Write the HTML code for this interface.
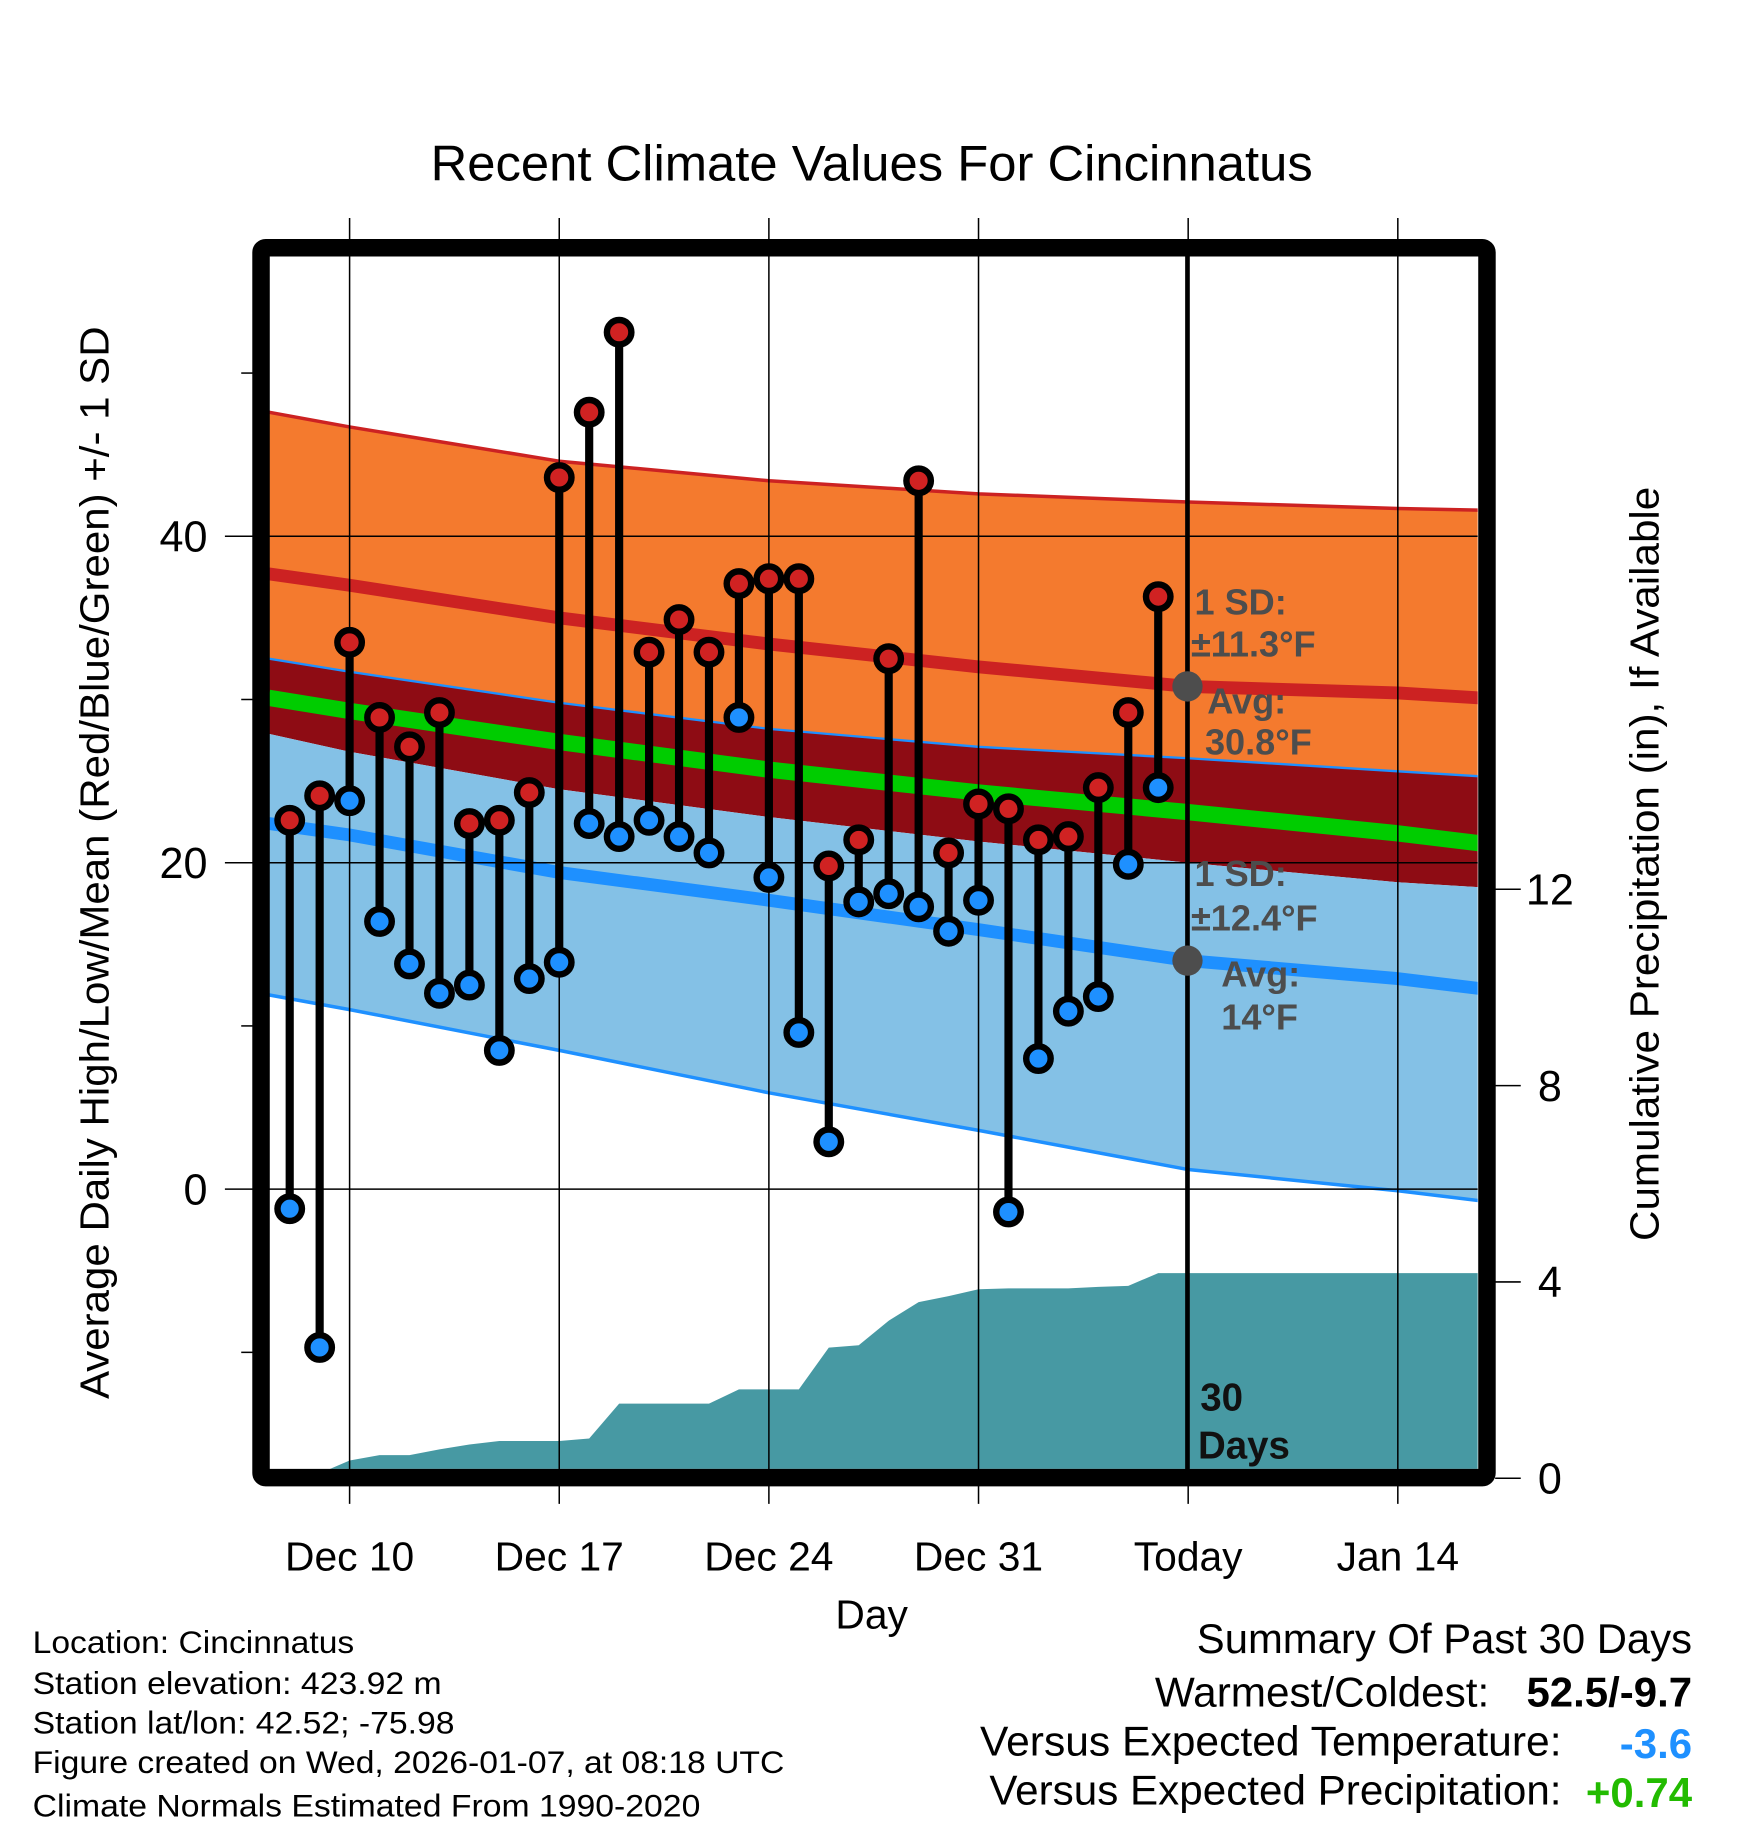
<!DOCTYPE html>
<html><head><meta charset="utf-8">
<style>
html,body{margin:0;padding:0;background:#fff;}
svg{display:block;font-family:"Liberation Sans",sans-serif;}
</style></head>
<body>
<svg id="chart" width="1748" height="1828" viewBox="0 0 1500 1568" preserveAspectRatio="none" xmlns="http://www.w3.org/2000/svg">
<defs><clipPath id="plotclip"><rect x="231" y="220" width="1037" height="1040"/></clipPath></defs>
<g id="plot" clip-path="url(#plotclip)"></g>
<g id="overlay"></g>
</svg>
<script>
// ---- data ----
const days = ["Dec 8","Dec 9","Dec 10","Dec 11","Dec 12","Dec 13","Dec 14","Dec 15","Dec 16","Dec 17","Dec 18","Dec 19","Dec 20","Dec 21","Dec 22","Dec 23","Dec 24","Dec 25","Dec 26","Dec 27","Dec 28","Dec 29","Dec 30","Dec 31","Jan 1","Jan 2","Jan 3","Jan 4","Jan 5","Jan 6"];
const highs = [22.6,24.1,33.5,28.9,27.1,29.2,22.4,22.6,24.3,43.6,47.6,52.5,32.9,34.9,32.9,37.1,37.4,37.4,19.8,21.4,32.5,43.4,20.6,23.6,23.3,21.4,21.6,24.6,29.2,36.3];
const lows = [-1.2,-9.7,23.8,16.4,13.8,12.0,12.5,8.5,12.9,13.9,22.4,21.6,22.6,21.6,20.6,28.9,19.1,9.6,2.9,17.6,18.1,17.3,15.8,17.7,-1.4,8.0,10.9,11.8,19.9,24.6];
// cumulative precip (in), Dec 8 .. Jan 7
const precip = [0,0.1,0.36,0.47,0.47,0.59,0.69,0.76,0.76,0.76,0.81,1.52,1.52,1.52,1.52,1.81,1.81,1.81,2.66,2.71,3.21,3.59,3.71,3.85,3.87,3.87,3.87,3.90,3.92,4.18,4.18];
// normals sampled at day offsets (0 = Dec 8)
const normDays = [-0.7,2,9,16,23,30,37,39.7];
const highUpper = [47.6,46.7,44.6,43.4,42.6,42.1,41.7,41.6];
const highMean = [37.7,37.0,35.0,33.4,32.0,30.8,30.4,30.1];
const highLower = [32.5,31.7,29.8,28.2,27.1,26.4,25.6,25.3];
const meanMean = [30.1,29.3,27.4,25.7,24.3,23.1,21.8,21.2];
const lowUpper = [27.9,26.8,24.5,22.8,21.3,20.0,18.8,18.5];
const lowMean = [22.4,21.7,19.4,17.7,15.9,14.0,12.9,12.3];
const lowLower = [11.9,11.0,8.5,5.9,3.6,1.2,-0.1,-0.7];
const xTickDays = [2,9,16,23,30,37];
const xTickLabels = ["Dec 10","Dec 17","Dec 24","Dec 31","Today","Jan 14"];
const yTicks = [0,20,40];
const yMinor = [-10,10,30,50];
const pTicks = [0,4,8,12];

// ---- axes ----
const X0 = 248.6, DX = 25.7;
const x = d => X0 + d*DX;
const y = v => 1020 - v*14;
const yp = v => 1268 - v*42.1;
const NS = "http://www.w3.org/2000/svg";
const plot = document.getElementById('plot');
const ov = document.getElementById('overlay');
function mk(tag, attrs, parent){ const e=document.createElementNS(NS,tag); for(const k in attrs) e.setAttribute(k,attrs[k]); parent.appendChild(e); return e; }
function pts(arr, fy){ return normDays.map((d,i)=>x(d).toFixed(1)+','+fy(arr[i]).toFixed(1)); }
function band(a,b,fill,name){
  const p = pts(a,y).concat(pts(b,y).reverse()).join(' ');
  const e = mk('polygon',{points:p,fill:fill},plot);
  
  
}
function line(a,color,w,name){
  const e = mk('polyline',{points:pts(a,y).join(' '),fill:'none',stroke:color,'stroke-width':w,'stroke-linejoin':'round'},plot);
  
  
}
band(highUpper,highLower,'#f47a2e','high-sd-band');
band(highLower,lowUpper,'#8e0c14','overlap-band');
band(lowUpper,lowLower,'#84c1e6','low-sd-band');
line(highUpper,'#cc2222',3,'high-upper-line');
line(highLower,'#1e90ff',2,'high-lower-line');
line(lowLower,'#1e90ff',3,'low-lower-line');
line(meanMean,'#00cc00',14,'mean-normal-line');
line(highMean,'#cc2222',11,'high-normal-line');
line(lowMean,'#1e90ff',11,'low-normal-line');

// precip area
{
  let p = precip.map((v,i)=>x(i).toFixed(1)+','+yp(v).toFixed(1));
  p.push('1270,'+yp(precip[precip.length-1]).toFixed(1), '1270,1270', x(0)+',1270');
  const e = mk('polygon',{points:p.join(' '),fill:'#4799a3'},plot);
  
  
}

// grid lines
xTickDays.forEach((d,i)=>{
  const g = mk('line',{x1:x(d),x2:x(d),y1:187,y2:1290,stroke:'#000','stroke-width':1.3},ov);
  
  
});
yTicks.forEach(v=>{
  const g = mk('line',{x1:193,x2:1268,y1:y(v),y2:y(v),stroke:'#000','stroke-width':1.3},ov);
  
  
  const t = mk('text',{x:178,y:y(v)+13,'text-anchor':'end','font-size':37},ov);
  t.textContent = v;
  
  
});
yMinor.forEach(v=>{
  const g = mk('line',{x1:207,x2:220,y1:y(v),y2:y(v),stroke:'#000','stroke-width':1.3},ov);
  
  
});
pTicks.forEach(v=>{
  const g = mk('line',{x1:1283,x2:1305,y1:yp(v),y2:yp(v),stroke:'#000','stroke-width':1.3},ov);
  
  
  const t = mk('text',{x:1330,y:yp(v)+13,'text-anchor':'middle','font-size':37},ov);
  t.textContent = v;
  
  
});
xTickLabels.forEach((l,i)=>{
  const t = mk('text',{x:x(xTickDays[i]),y:1347,'text-anchor':'middle','font-size':35},ov);
  t.textContent = l;
  
  
});
// today line
{
  const e = mk('line',{x1:1019,x2:1019,y1:220,y2:1262,stroke:'#000','stroke-width':4},ov);
  
  
}
// stems & markers
days.forEach((d,i)=>{
  const s = mk('line',{x1:x(i),x2:x(i),y1:y(highs[i]),y2:y(lows[i]),stroke:'#000','stroke-width':7},ov);
  
  
});
days.forEach((d,i)=>{
  const h = mk('circle',{cx:x(i),cy:y(highs[i]),r:10.5,fill:'#d02222',stroke:'#000','stroke-width':5.5},ov);
  
  
  const l = mk('circle',{cx:x(i),cy:y(lows[i]),r:10.5,fill:'#1e90ff',stroke:'#000','stroke-width':5.5},ov);
  
  
});
// avg dots
{
  const a = mk('circle',{cx:1019,cy:y(highMean[5]),r:13,fill:'#4d4d4d'},ov);
  
  
  const b = mk('circle',{cx:1019,cy:y(lowMean[5]),r:13,fill:'#4d4d4d'},ov);
  
  
}
</script>
<script>
(function(){
const NS="http://www.w3.org/2000/svg";
const svg=document.getElementById('chart');
const f=document.createElementNS(NS,'rect');
f.setAttribute('x',224);f.setAttribute('y',212.5);f.setAttribute('width',1052);f.setAttribute('height',1055);
f.setAttribute('fill','none');f.setAttribute('stroke','#000');f.setAttribute('stroke-width',15);f.setAttribute('rx',4);


svg.appendChild(f);
})();
</script>
<svg style="position:absolute;left:0;top:0" width="1748" height="1828" viewBox="0 0 1500 1568" preserveAspectRatio="none" xmlns="http://www.w3.org/2000/svg" font-family="Liberation Sans, sans-serif">
<text x="748" y="155" text-anchor="middle" font-size="43" textLength="757" lengthAdjust="spacingAndGlyphs">Recent Climate Values For Cincinnatus</text>
<text transform="translate(93,740) rotate(-90)" text-anchor="middle" font-size="35" textLength="920" lengthAdjust="spacingAndGlyphs">Average Daily High/Low/Mean (Red/Blue/Green) +/- 1 SD</text>
<text transform="translate(1423,741) rotate(-90)" text-anchor="middle" font-size="35" textLength="647" lengthAdjust="spacingAndGlyphs">Cumulative Precipitation (in), If Available</text>
<text x="748" y="1397" text-anchor="middle" font-size="35">Day</text>
<g font-weight="bold" font-size="31" fill="#4d4d4d">
<text x="1025" y="527">1 SD:</text>
<text x="1022" y="563">±11.3°F</text>
<text x="1036" y="612">Avg:</text>
<text x="1034" y="647">30.8°F</text>
<text x="1025" y="760">1 SD:</text>
<text x="1022" y="798">±12.4°F</text>
<text x="1048" y="846">Avg:</text>
<text x="1048" y="883">14°F</text>
</g>
<g font-weight="bold" font-size="33" fill="#111">
<text x="1030" y="1210">30</text>
<text x="1028" y="1251">Days</text>
</g>
<g font-size="27" fill="#000">
<text x="28" y="1418" textLength="276" lengthAdjust="spacingAndGlyphs">Location: Cincinnatus</text>
<text x="28" y="1453" textLength="351" lengthAdjust="spacingAndGlyphs">Station elevation: 423.92 m</text>
<text x="28" y="1487" textLength="362" lengthAdjust="spacingAndGlyphs">Station lat/lon: 42.52; -75.98</text>
<text x="28" y="1521" textLength="645" lengthAdjust="spacingAndGlyphs">Figure created on Wed, 2026-01-07, at 08:18 UTC</text>
<text x="28" y="1558" textLength="573" lengthAdjust="spacingAndGlyphs">Climate Normals Estimated From 1990-2020</text>
</g>
<g font-size="36" fill="#000">
<text x="1452" y="1418" text-anchor="end" textLength="425" lengthAdjust="spacingAndGlyphs">Summary Of Past 30 Days</text>
<text x="1278" y="1464" text-anchor="end" textLength="287" lengthAdjust="spacingAndGlyphs">Warmest/Coldest:</text>
<text x="1452" y="1464" text-anchor="end" font-weight="bold">52.5/-9.7</text>
<text x="1340" y="1506" text-anchor="end" textLength="499" lengthAdjust="spacingAndGlyphs">Versus Expected Temperature:</text>
<text x="1452" y="1508" text-anchor="end" font-weight="bold" fill="#1e90ff">-3.6</text>
<text x="1340" y="1548" text-anchor="end" textLength="491" lengthAdjust="spacingAndGlyphs">Versus Expected Precipitation:</text>
<text x="1452" y="1550" text-anchor="end" font-weight="bold" fill="#22bb00">+0.74</text>
</g>
</svg>
</body></html>
